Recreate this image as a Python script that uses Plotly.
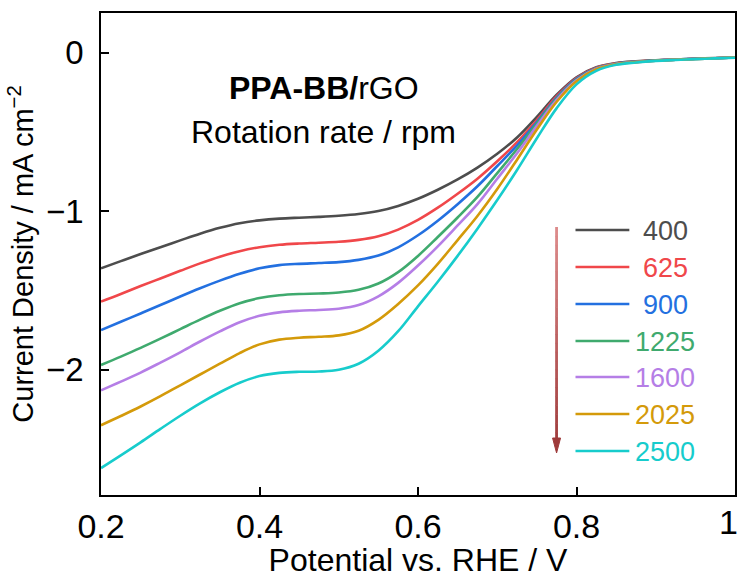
import plotly.graph_objects as go

# ---------------- data ----------------
potential = [0.200, 0.225, 0.250, 0.275, 0.300, 0.325, 0.350, 0.375, 0.400, 0.425, 0.450,
             0.475, 0.500, 0.525, 0.550, 0.575, 0.600, 0.625, 0.650, 0.675, 0.700, 0.725,
             0.750, 0.775, 0.800, 0.825, 0.850, 0.875, 0.900, 0.925, 0.950, 0.975, 1.000]

rpm_labels = ["400", "625", "900", "1225", "1600", "2025", "2500"]

j_400 = [-1.360, -1.315, -1.270, -1.227, -1.184, -1.142, -1.105, -1.076, -1.058, -1.047, -1.041,
         -1.036, -1.029, -1.018, -0.999, -0.967, -0.922, -0.865, -0.800, -0.725, -0.638, -0.535,
         -0.405, -0.265, -0.155, -0.092, -0.066, -0.055, -0.048, -0.043, -0.038, -0.034, -0.030]
j_625 = [-1.570, -1.522, -1.472, -1.424, -1.376, -1.329, -1.287, -1.252, -1.227, -1.212, -1.204,
         -1.199, -1.193, -1.181, -1.158, -1.116, -1.055, -0.978, -0.890, -0.795, -0.685, -0.565,
         -0.425, -0.275, -0.160, -0.095, -0.068, -0.057, -0.049, -0.044, -0.039, -0.035, -0.031]
j_900 = [-1.750, -1.697, -1.645, -1.592, -1.538, -1.486, -1.438, -1.395, -1.360, -1.340, -1.332,
         -1.327, -1.321, -1.307, -1.280, -1.228, -1.152, -1.060, -0.956, -0.843, -0.715, -0.585,
         -0.438, -0.283, -0.165, -0.098, -0.070, -0.058, -0.050, -0.044, -0.039, -0.035, -0.031]
j_1225 = [-1.970, -1.917, -1.862, -1.804, -1.744, -1.684, -1.628, -1.580, -1.548, -1.530, -1.522,
          -1.519, -1.513, -1.496, -1.456, -1.384, -1.282, -1.163, -1.040, -0.910, -0.760, -0.608,
          -0.448, -0.290, -0.170, -0.100, -0.071, -0.059, -0.050, -0.045, -0.040, -0.035, -0.031]
j_1600 = [-2.130, -2.075, -2.018, -1.955, -1.890, -1.822, -1.758, -1.700, -1.660, -1.638, -1.628,
          -1.623, -1.615, -1.592, -1.537, -1.452, -1.343, -1.222, -1.090, -0.955, -0.795, -0.635,
          -0.462, -0.298, -0.175, -0.102, -0.072, -0.060, -0.051, -0.045, -0.040, -0.035, -0.031]
j_2025 = [-2.350, -2.292, -2.232, -2.167, -2.098, -2.030, -1.962, -1.895, -1.840, -1.810, -1.798,
          -1.792, -1.783, -1.754, -1.685, -1.585, -1.468, -1.332, -1.182, -1.030, -0.860, -0.675,
          -0.485, -0.310, -0.180, -0.105, -0.073, -0.060, -0.051, -0.045, -0.040, -0.035, -0.031]
j_2500 = [-2.620, -2.540, -2.458, -2.373, -2.290, -2.212, -2.142, -2.082, -2.040, -2.020, -2.013,
          -2.011, -2.000, -1.962, -1.880, -1.757, -1.600, -1.445, -1.282, -1.110, -0.930, -0.740,
          -0.540, -0.350, -0.200, -0.115, -0.077, -0.062, -0.052, -0.046, -0.041, -0.036, -0.032]

series = [j_400, j_625, j_900, j_1225, j_1600, j_2025, j_2500]
colors = ["#4d4d4d", "#f0474a", "#2370e0", "#3faa6e", "#b57ee6", "#d49a0a", "#17cccc"]

x_ticks = [0.2, 0.4, 0.6, 0.8, 1.0]
x_ticktext = ["0.2", "0.4", "0.6", "0.8", "1"]
y_ticks = [0, -1, -2]
y_ticktext = ["0", "\u22121", "\u22122"]

FONT = "Liberation Sans, Arial, sans-serif"

fig = go.Figure()
for name, ys, c in zip(rpm_labels, series, colors):
    fig.add_trace(go.Scatter(x=potential, y=ys, mode="lines", name=name,
                             line=dict(color=c, width=2.6, shape="spline", smoothing=1.0),
                             showlegend=False))

W, H = 742, 578
ml, mr, mt, mb = 101, 5, 13, 83
pw, ph = W - ml - mr, H - mt - mb

def px(x):
    return (x - ml) / pw

def py(y):
    return (H - mb - y) / ph

shapes = []
annotations = []

# the last x tick label sits at the right edge of the figure: draw it right-anchored
axis_ticktext = x_ticktext[:-1] + [""]
annotations.append(dict(xref="paper", yref="paper", x=px(W), y=py(522),
                        text=x_ticktext[-1], showarrow=False,
                        xanchor="right", yanchor="middle",
                        font=dict(family=FONT, size=34, color="black")))

# manual legend
row_y = [230, 267, 304, 341, 377, 414, 451]
for lab, c, yy in zip(rpm_labels, colors, row_y):
    shapes.append(dict(type="line", xref="paper", yref="paper",
                       x0=px(577), x1=px(631), y0=py(yy), y1=py(yy),
                       line=dict(color=c, width=2.6)))
    annotations.append(dict(xref="paper", yref="paper", x=px(667), y=py(yy + 1),
                            text=lab, showarrow=False, xanchor="center", yanchor="middle",
                            font=dict(family=FONT, size=27, color=c)))

# gradient arrow
n = 24
ax_x = 558
y_top, y_bot = 227, 441
c0, c1 = (222, 140, 140), (160, 60, 60)
for i in range(n):
    t0 = i / n
    t1 = (i + 1) / n
    tc = (i + 0.5) / n
    col = "rgb(%d,%d,%d)" % tuple(int(a + (b - a) * tc) for a, b in zip(c0, c1))
    shapes.append(dict(type="line", xref="paper", yref="paper",
                       x0=px(ax_x), x1=px(ax_x),
                       y0=py(y_top + (y_bot - y_top) * t0), y1=py(y_top + (y_bot - y_top) * t1 + 0.5),
                       line=dict(color=col, width=2.8)))
tip, base, hw = 453, 438, 4
shapes.append(dict(type="path", xref="paper", yref="paper",
                   path="M %f,%f L %f,%f L %f,%f Z" % (px(ax_x - hw), py(base), px(ax_x + hw), py(base),
                                                      px(ax_x), py(tip)),
                   fillcolor="rgb(158,58,58)", line=dict(color="rgb(158,58,58)", width=1)))

annotations.append(dict(xref="paper", yref="paper", x=px(325), y=py(88),
                        text="<b>PPA-BB/</b>rGO", showarrow=False,
                        xanchor="center", yanchor="middle",
                        font=dict(family=FONT, size=32, color="black")))
annotations.append(dict(xref="paper", yref="paper", x=px(324), y=py(132),
                        text="Rotation rate / rpm", showarrow=False,
                        xanchor="center", yanchor="middle",
                        font=dict(family=FONT, size=32, color="black")))

fig.update_layout(
    width=W, height=H,
    margin=dict(l=ml, r=mr, t=mt, b=mb),
    paper_bgcolor="white", plot_bgcolor="white",
    font=dict(family=FONT, color="black"),
    shapes=shapes, annotations=annotations,
    xaxis=dict(range=[0.2, 1.0], tickvals=x_ticks, ticktext=axis_ticktext,
               ticks="inside", ticklen=8, tickwidth=1.5, tickcolor="black",
               showline=True, linecolor="black", linewidth=1.5, mirror=True,
               showgrid=False, zeroline=False,
               automargin=False,
               tickfont=dict(family=FONT, size=34),
               title=dict(text="Potential vs. RHE / V", font=dict(family=FONT, size=32), standoff=8)),
    yaxis=dict(range=[-2.79, 0.25], tickvals=y_ticks, ticktext=y_ticktext,
               ticks="inside", ticklen=8, tickwidth=1.5, tickcolor="black",
               showline=True, linecolor="black", linewidth=1.5, mirror=True,
               showgrid=False, zeroline=False, ticklabelstandoff=9,
               automargin=True,
               tickfont=dict(family=FONT, size=33),
               title=dict(text="Current Density / mA cm<sup>\u22122</sup>",
                          font=dict(family=FONT, size=29), standoff=4)),
)

fig.write_html("out.html")
